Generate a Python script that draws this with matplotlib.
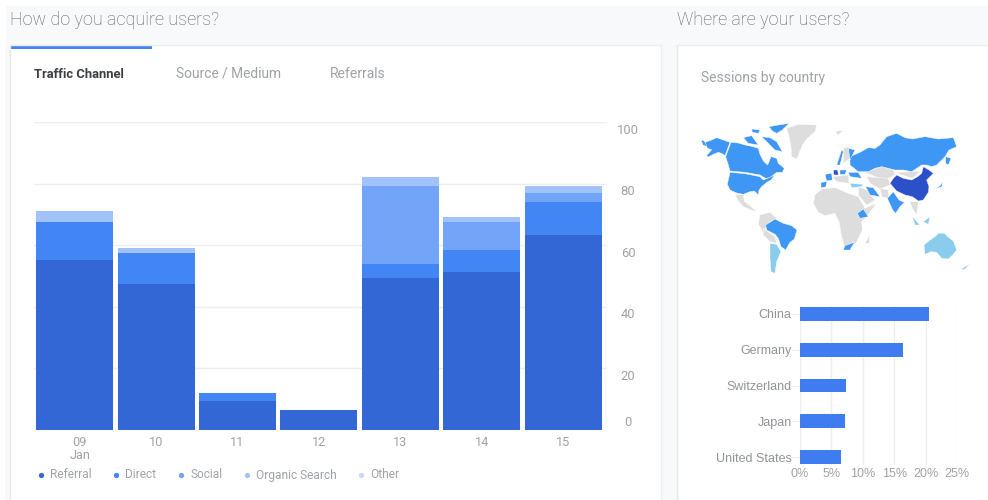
import numpy as np
import matplotlib
matplotlib.use("Agg")
import matplotlib.pyplot as plt
from matplotlib.patches import Polygon, Rectangle
from matplotlib.transforms import ScaledTranslation

plt.rcParams["font.family"] = ["Roboto", "DejaVu Sans"]

W, H = 988, 500

# traffic chart data
days = ["09\nJan", "10", "11", "12", "13", "14", "15"]
referral = [55.2, 47.4, 9.4, 6.5, 49.4, 51.3, 63.3]
direct = [12.3, 10.1, 2.6, 0, 4.6, 7.1, 10.7]
social = [0, 0, 0, 0, 25.3, 9.1, 2.9]
organic = [3.6, 1.6, 0, 0, 2.9, 1.6, 2.3]
other = [0, 0, 0, 0, 0, 0, 0]
series_names = ["Referral", "Direct", "Social", "Organic Search", "Other"]
series_colors = ["#3367d6", "#4285f4", "#72a4f7", "#a1c2fa", "#c6d9fb"]
y_ticks = [0, 20, 40, 60, 80, 100]

# sessions by country
countries = ["China", "Germany", "Switzerland", "Japan", "United States"]
shares = [20.6, 16.4, 7.4, 7.1, 6.6]
x_ticks = [0, 5, 10, 15, 20, 25]

# map outlines, rough, in zoomed pixels (3x) of each half of the map
BLUE, DARK, SKY, GREY = "#3f97f5", "#2b50c8", "#8accee", "#dddddd"
map_west = [
    (BLUE, [(30, 82), (48, 76), (65, 68), (85, 75), (105, 82), (90, 122), (80, 115), (70, 112), (55, 118), (40, 126), (35, 122), (50, 104), (38, 100), (32, 92)]),
    (BLUE, [(108, 82), (130, 84), (150, 90), (170, 94), (190, 100), (195, 118), (205, 138), (218, 150), (228, 125), (245, 130), (250, 145), (268, 160), (262, 172), (245, 172), (225, 188), (212, 190), (195, 180), (150, 172), (105, 168), (100, 150), (92, 125)]),
    (BLUE, [(105, 172), (150, 176), (195, 185), (205, 195), (222, 188), (240, 180), (228, 195), (215, 202), (200, 215), (192, 225), (190, 240), (178, 228), (165, 230), (145, 238), (125, 234), (105, 225), (97, 208)]),
    (BLUE, [(145, 68), (170, 62), (190, 90), (160, 85)]),
    (BLUE, [(222, 35), (250, 30), (282, 25), (262, 45), (245, 55), (232, 48)]),
    (BLUE, [(200, 65), (225, 68), (245, 80), (262, 110), (240, 105), (225, 90)]),
    (BLUE, [(170, 42), (195, 45), (190, 55), (172, 52)]),
    (BLUE, [(18, 75), (28, 78), (36, 95), (24, 90)]),
    (GREY, [(275, 40), (310, 28), (365, 30), (360, 50), (335, 72), (322, 90), (305, 132), (290, 125), (288, 95), (282, 65)]),
    (GREY, [(120, 238), (145, 240), (148, 260), (165, 272), (185, 290), (168, 285), (145, 275), (130, 258)]),
    (GREY, [(195, 300), (225, 292), (245, 310), (222, 322), (212, 340), (205, 352), (190, 328)]),
    (GREY, [(205, 340), (215, 348), (240, 365), (245, 385), (225, 380), (205, 360)]),
    (BLUE, [(212, 330), (240, 312), (265, 325), (290, 332), (306, 345), (298, 372), (285, 382), (272, 405), (258, 395), (250, 370), (240, 358), (215, 345)]),
    (SKY, [(225, 385), (245, 388), (258, 410), (245, 440), (240, 475), (228, 470), (225, 430)]),
]
map_east = [
    (GREY, [(-30, 240), (-10, 222), (30, 218), (70, 235), (100, 245), (120, 280), (155, 265), (132, 295), (110, 320), (112, 345), (95, 380), (85, 392), (60, 402), (50, 365), (42, 320), (30, 295), (0, 302), (-20, 292), (-35, 265)]),
    (GREY, [(100, 215), (125, 225), (150, 255), (125, 270), (100, 240)]),
    (GREY, [(255, 260), (280, 260), (275, 300), (262, 280)]),
    (GREY, [(55, 100), (70, 95), (75, 130), (55, 145)]),
    (GREY, [(30, 50), (55, 45), (40, 60)]),
    (GREY, [(22, 185), (70, 180), (72, 205), (35, 200)]),
    (GREY, [(120, 172), (170, 155), (205, 165), (210, 180), (180, 195), (150, 185)]),
    (GREY, [(215, 172), (260, 170), (285, 170), (262, 190), (225, 178)]),
    (GREY, [(165, 220), (190, 225), (190, 250), (170, 245)]),
    (GREY, [(125, 185), (190, 190), (195, 210), (165, 222), (135, 205)]),
    (BLUE, [(75, 125), (105, 112), (130, 98), (150, 100), (165, 90), (185, 65), (215, 55), (240, 68), (262, 72), (300, 65), (340, 72), (385, 68), (395, 95), (372, 105), (360, 125), (350, 135), (335, 150), (320, 155), (305, 150), (290, 150), (260, 170), (235, 165), (210, 165), (190, 160), (170, 155), (150, 160), (130, 170), (100, 170), (75, 150)]),
    (DARK, [(195, 205), (205, 190), (215, 180), (235, 190), (260, 195), (278, 185), (290, 175), (295, 155), (312, 165), (325, 175), (305, 195), (312, 215), (310, 232), (295, 255), (280, 258), (262, 245), (240, 240), (215, 228)]),
    (BLUE, [(187, 250), (205, 230), (222, 255), (238, 262), (225, 275), (212, 295), (203, 285)]),
    (BLUE, [(122, 215), (145, 218), (165, 245), (135, 240)]),
    (BLUE, [(55, 405), (60, 392), (88, 382), (75, 405)]),
    (BLUE, [(97, 295), (115, 282), (130, 305), (105, 310)]),
    (GREY, [(120, 385), (135, 360), (132, 385)]),
    (DARK, [(25, 165), (38, 165), (40, 180), (27, 180)]),
    (BLUE, [(0, 178), (20, 175), (22, 195), (5, 198)]),
    (BLUE, [(-12, 202), (6, 200), (2, 216), (-12, 218)]),
    (BLUE, [(35, 150), (50, 105), (55, 110), (45, 150)]),
    (BLUE, [(70, 100), (90, 105), (75, 135)]),
    (BLUE, [(45, 165), (65, 165), (60, 178), (45, 178)]),
    (BLUE, [(70, 172), (100, 172), (110, 190), (75, 185)]),
    (SKY, [(75, 205), (115, 208), (110, 215), (80, 218)]),
    (BLUE, [(362, 125), (378, 130), (370, 150), (362, 145)]),
    (BLUE, [(345, 212), (355, 200), (350, 215), (330, 222)]),
    (SKY, [(262, 305), (285, 330), (270, 330)]),
    (SKY, [(295, 320), (315, 305), (310, 328)]),
    (SKY, [(297, 390), (315, 375), (330, 365), (340, 355), (358, 355), (368, 365), (385, 378), (395, 405), (385, 418), (370, 432), (350, 430), (335, 412), (318, 410), (300, 418)]),
    (SKY, [(405, 465), (435, 445), (420, 462)]),
]

fig = plt.figure(figsize=(W / 100, H / 100), dpi=100, facecolor="white")

# page layer in pixel coordinates
bg = fig.add_axes([0, 0, 1, 1])
bg.set_xlim(0, W)
bg.set_ylim(H, 0)
bg.axis("off")
bg.add_patch(Rectangle((6, 6), W - 6, 39, fc="#f7f9fb", ec="none"))
bg.add_patch(Rectangle((661, 6), 16, H, fc="#f7f9fb", ec="none"))
bg.add_patch(Rectangle((5, 45), 5, H, fc="#f7f9fb", ec="none"))
bg.plot([10, 10], [45, H], color="#e6e8ea", lw=1)
bg.plot([661, 661], [45, H], color="#eceef0", lw=1)
bg.plot([677, 677], [45, H], color="#e6e8ea", lw=1)
bg.plot([10, 661], [45, 45], color="#eceef0", lw=1)
bg.plot([677, W], [45, 45], color="#eceef0", lw=1)
bg.add_patch(Rectangle((10, 45), 142, 4, fc="#4285f4", ec="none"))

bg.text(10, 20, "How do you acquire users?", fontsize=13, color="#5f6368", va="center", fontweight="light")
bg.text(677, 20, "Where are your users?", fontsize=13, color="#5f6368", va="center", fontweight="light")
bg.text(34, 74, "Traffic Channel", fontsize=9.4, color="#3c4043", va="center", fontweight="bold")
bg.text(176, 74, "Source / Medium", fontsize=9.9, color="#a0a3a6", va="center")
bg.text(330, 74, "Referrals", fontsize=10, color="#a0a3a6", va="center")
bg.text(701, 78, "Sessions by country", fontsize=10, color="#a0a3a6", va="center")

for (color, pts) in map_west:
    xy = np.array(pts) / 3 + [695, 115]
    bg.add_patch(Polygon(xy, closed=True, fc=color, ec="white", lw=0.3))
for (color, pts) in map_east:
    xy = np.array(pts) / 3 + [825, 115]
    bg.add_patch(Polygon(xy, closed=True, fc=color, ec="white", lw=0.3))

# stacked bars
ax = fig.add_axes([34 / W, 1 - 430 / H, (607 - 34) / W, (430 - 122) / H])
ax.patch.set_alpha(0)
pos = np.arange(len(days))
ax.set_xlim(-0.5, 6.54)
ax.set_ylim(0, 100)
bottom = np.zeros(len(days))
for vals, color in zip([referral, direct, social, organic, other], series_colors):
    ax.bar(pos, vals, width=0.945, bottom=bottom, color=color, linewidth=0, zorder=3)
    bottom = bottom + np.array(vals)
ax.set_yticks(y_ticks)
ax.yaxis.grid(True, color="#eeeeee", lw=1, zorder=0)
ax.set_axisbelow(True)
ax.tick_params(length=0)
ax.set_yticklabels([])
ax.set_xticks(pos)
ax.set_xticklabels(days, fontsize=9.2, color="#a0a3a6", linespacing=1.0)
ax.tick_params(axis="x", pad=4)
# the first label is pushed right a little
first = ax.get_xticklabels()[0]
first.set_transform(first.get_transform() + ScaledTranslation(5 / 100, 0, fig.dpi_scale_trans))
for s in ax.spines.values():
    s.set_visible(False)

# y labels hang below their gridlines, only the 0 sits above
for v in y_ticks:
    off = 7 if v > 0 else -8
    px = ax.transData.transform((0, v))[1]
    bg.text(628, H - px + off + 1, str(v), fontsize=9.4, color="#a0a3a6", ha="center", va="center")

# legend row
legend_x = [41, 116, 181, 247, 361]
for name, color, lx in zip(series_names, series_colors, legend_x):
    bg.plot(lx, 475, "o", color=color, ms=3.8, mew=0)
    bg.text(lx + 9, 475, name, fontsize=8.6, color="#a0a3a6", va="center")

# country bars
ax2 = fig.add_axes([800 / W, 1 - 465 / H, (957 - 800) / W, (465 - 306) / H])
ax2.patch.set_alpha(0)
ypos = np.arange(len(countries))
ax2.barh(ypos, shares, height=0.39, color="#3f7cf0", zorder=3)
ax2.set_xlim(0, 25)
ax2.set_ylim(4.22, -0.22)
ax2.set_xticks(x_ticks)
ax2.set_xticklabels([f"{t}%" for t in x_ticks], fontsize=9, color="#a0a3a6", family="Liberation Sans")
ax2.set_yticks(ypos)
ax2.set_yticklabels(countries, fontsize=9, color="#909398", family="Liberation Sans")
ax2.xaxis.grid(True, color="#eeeeee", lw=1, zorder=0)
ax2.tick_params(axis="x", length=0, pad=2)
ax2.tick_params(axis="y", length=6, width=0.8, color="#eeeeee", pad=0)
for s in ax2.spines.values():
    s.set_visible(False)

fig.savefig("out.png", dpi=100)
